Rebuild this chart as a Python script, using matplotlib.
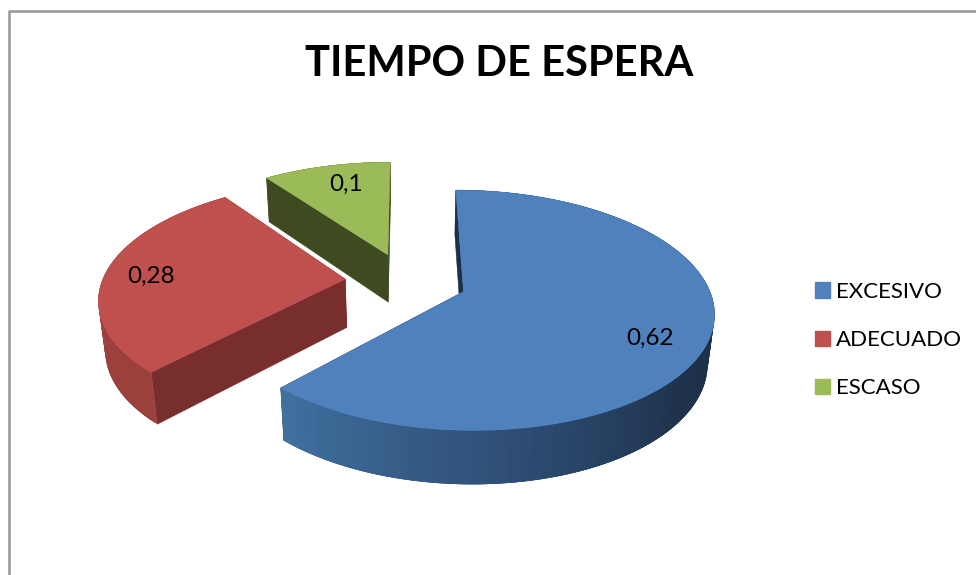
#!/usr/bin/env python3

import numpy as np
import matplotlib
matplotlib.use("Agg")
import matplotlib.pyplot as plt
from matplotlib.colors import LinearSegmentedColormap
from matplotlib.patches import Patch, Polygon

plt.rcParams["font.family"] = ["Lato", "DejaVu Sans"]

# ======================================================
# DATA
# ======================================================

categories = ["EXCESIVO", "ADECUADO", "ESCASO"]
values = [0.62, 0.28, 0.1]
value_labels = ["0,62", "0,28", "0,1"]
title = "TIEMPO DE ESPERA"

# ======================================================
# STYLE
# ======================================================

top_colors = ["#4f81bd", "#c0504d", "#9bbb59"]
cut_colors = ["#1c3048", "#772e2d", "#3e4a20"]
side_stops = [
    [(0.0, "#1d3048"), (0.42, "#1d3048"), (0.58, "#1e324b"),
     (0.75, "#2c4a70"), (1.0, "#41709f")],
    [(0.0, "#9c403d"), (1.0, "#a0423f")],
    [(0.0, "#3e4a20"), (1.0, "#3e4a20")],
]
label_pos = [(650, 338), (151, 276), (346, 184)]

# ======================================================
# PROJECTION OF THE 3D PIE ONTO THE CANVAS (pixels)
# ======================================================

X0, Y0 = 406, 281
A, B, C = 243, 114, 49.5
K, M = 0.152, 0.022
EXPLODE = 0.251


def project(x, y, low=False):
    h = 1.0 if low else 0.0
    w = 1 + K * np.asarray(y) + M * h
    return np.column_stack([
        X0 + A * np.asarray(x) / w,
        Y0 + (-B * np.asarray(y) + C * h) / w,
    ])


fig = plt.figure(figsize=(9.76, 5.75), dpi=100)
ax = fig.add_axes([0, 0, 1, 1])
ax.set_xlim(0, 976)
ax.set_ylim(575, 0)
ax.axis("off")

# chart area frame, cut by the screenshot on the right and bottom
ax.plot([9, 9, 976], [575, 11, 11], color="#969696", lw=1.8, zorder=1)

# ======================================================
# WEDGES: green first, blue last
# ======================================================

edges = np.cumsum([0] + values) * 2 * np.pi
order = [2, 1, 0]

for i in order:

    a0, a1 = edges[i], edges[i + 1]
    mid = (a0 + a1) / 2
    ox = EXPLODE * np.sin(mid)
    oy = EXPLODE * np.cos(mid)

    t = np.linspace(a0, a1, 160)
    px = ox + np.sin(t)
    py = oy + np.cos(t)

    # cut faces
    for a in (a1, a0):
        fx = np.array([ox, ox + np.sin(a)])
        fy = np.array([oy, oy + np.cos(a)])
        face = np.vstack([project(fx, fy), project(fx, fy, True)[::-1]])
        ax.add_patch(Polygon(face, fc=cut_colors[i], ec=cut_colors[i],
                             lw=0.4, zorder=2 + order.index(i)))

    # outer side, shaded along the arc; strips overlap so no seams show
    cmap = LinearSegmentedColormap.from_list("side", side_stops[i])
    up = project(px, py)
    lo = project(px, py, True)
    for j in range(len(t) - 1):
        quad = np.vstack([up[j:j + 4], lo[j:j + 4][::-1]])
        c = cmap(j / (len(t) - 2))
        ax.add_patch(Polygon(quad, fc=c, ec="none", lw=0,
                             zorder=2 + order.index(i)))

    # top surface
    top = np.vstack([project([ox], [oy]), up])
    ax.add_patch(Polygon(top, fc=top_colors[i], ec=top_colors[i], lw=0.4,
                         zorder=2 + order.index(i)))

# ======================================================
# TEXT
# ======================================================

for txt, (x, y) in zip(value_labels, label_pos):
    ax.text(x, y, txt, fontsize=17.5, color="black",
            ha="center", va="center", zorder=10)

ax.text(499, 64, title, fontsize=30, fontweight="bold", color="black",
        ha="center", va="center")

handles = [Patch(fc=c, ec=c) for c in top_colors]
ax.legend(
    handles,
    categories,
    loc="center left",
    bbox_to_anchor=(795 / 976, 1 - 340 / 575),
    frameon=False,
    fontsize=16,
    handlelength=0.68,
    handleheight=0.68,
    handletextpad=0.27,
    labelspacing=1.27,
)

fig.savefig("out.png", dpi=100)
